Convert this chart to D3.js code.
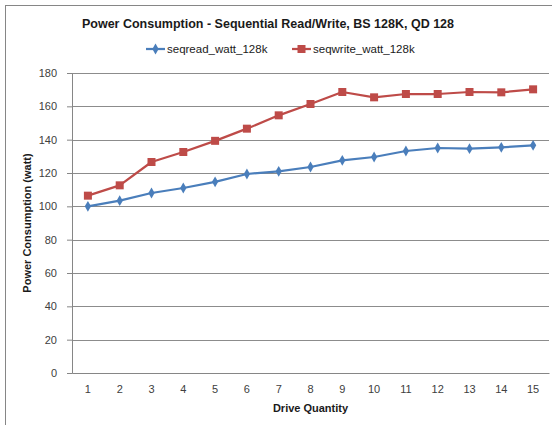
<!DOCTYPE html>
<html>
<head>
<meta charset="utf-8">
<script src="https://cdn.jsdelivr.net/npm/d3@7"></script>
<style>
  body { margin: 0; background: #fff; }
  text { font-family: "Liberation Sans", Arial, sans-serif; }
</style>
</head>
<body>
<script>
// Chart data
var drives = [1, 2, 3, 4, 5, 6, 7, 8, 9, 10, 11, 12, 13, 14, 15];
var seqRead = [100, 103.4, 108, 111, 114.7, 119.4, 121, 123.6, 127.6, 129.6, 133.2, 135, 134.6, 135.4, 136.6];
var seqWrite = [106.4, 112.6, 126.6, 132.6, 139.3, 146.6, 154.6, 161.4, 168.6, 165.4, 167.4, 167.4, 168.6, 168.4, 170.2];
var yTicks = [0, 20, 40, 60, 80, 100, 120, 140, 160, 180];

var seriesNames = ['seqread_watt_128k', 'seqwrite_watt_128k'];
var seriesColors = ['#4a7ebb', '#be4b48'];

var svgWidth = 552;
var svgHeight = 425;

var margin = { top: 73, right: 3, bottom: 52, left: 72 };
var chartWidth = svgWidth - margin.left - margin.right;
var chartHeight = svgHeight - margin.top - margin.bottom;

var svg = d3.select('body').append('svg')
  .attr('width', svgWidth)
  .attr('height', svgHeight);

// outer chart border (right and bottom edges fall outside the picture)
svg.append('rect')
  .attr('x', 5.5)
  .attr('y', 5.5)
  .attr('width', 560)
  .attr('height', 440)
  .attr('fill', 'none')
  .attr('stroke', '#868686');

var chart = svg.append('g')
  .attr('transform', `translate(${margin.left}, ${margin.top})`);

var xScale = d3.scaleBand()
  .domain(drives)
  .range([0, chartWidth]);

var yScale = d3.scaleLinear()
  .domain([0, 180])
  .range([chartHeight, 0]);

// gridlines
chart.append('g')
  .selectAll('line')
  .data(yTicks.slice(1))
  .enter()
  .append('line')
  .attr('x1', 0)
  .attr('x2', chartWidth)
  .attr('y1', function(d) { return Math.round(yScale(d)) + 0.5; })
  .attr('y2', function(d) { return Math.round(yScale(d)) + 0.5; })
  .attr('stroke', '#8c8c8c')
  .attr('stroke-width', 1);

// y axis
var leftAxis = d3.axisLeft(yScale)
  .tickValues(yTicks)
  .tickSize(5)
  .tickPadding(10);

var yAxis = chart.append('g')
  .call(leftAxis);
yAxis.select('.domain').attr('stroke', '#868686');
yAxis.selectAll('.tick line').attr('stroke', '#868686');
yAxis.selectAll('.tick text')
  .attr('font-size', 11)
  .attr('fill', '#404040')
  .attr('font-family', '"Liberation Sans", Arial, sans-serif');

// x axis
var bottomAxis = d3.axisBottom(xScale)
  .tickSize(0)
  .tickPadding(12);

var xAxis = chart.append('g')
  .attr('transform', `translate(0, ${chartHeight})`)
  .call(bottomAxis);
xAxis.select('.domain').attr('stroke', '#868686');
xAxis.selectAll('.tick text')
  .attr('font-size', 11)
  .attr('fill', '#404040')
  .attr('font-family', '"Liberation Sans", Arial, sans-serif');

// title
svg.append('text')
  .attr('x', 268)
  .attr('y', 28)
  .attr('text-anchor', 'middle')
  .attr('font-size', 12.5)
  .attr('font-weight', 'bold')
  .attr('fill', '#1a1a1a')
  .text('Power Consumption - Sequential Read/Write, BS 128K, QD 128');

// axis titles
svg.append('text')
  .attr('x', margin.left + chartWidth / 2)
  .attr('y', 412)
  .attr('text-anchor', 'middle')
  .attr('font-size', 11)
  .attr('font-weight', 'bold')
  .attr('fill', '#1a1a1a')
  .text('Drive Quantity');

svg.append('text')
  .attr('transform', 'rotate(-90)')
  .attr('x', -(margin.top + chartHeight / 2))
  .attr('y', 31)
  .attr('text-anchor', 'middle')
  .attr('font-size', 11)
  .attr('font-weight', 'bold')
  .attr('fill', '#1a1a1a')
  .text('Power Consumption (watt)');

// lines and markers
var allSeries = [seqRead, seqWrite];

var line = d3.line()
  .x(function(d, i) { return xScale(drives[i]) + xScale.bandwidth() / 2; })
  .y(function(d) { return yScale(d); });

function drawMarker(g, k, x, y) {
  if (k === 0) {
    g.append('path')
      .attr('d', d3.symbol().type(d3.symbolDiamond).size(34)())
      .attr('transform', `translate(${x}, ${y})`)
      .attr('fill', seriesColors[k]);
  } else {
    g.append('rect')
      .attr('x', x - 4)
      .attr('y', y - 4)
      .attr('width', 8)
      .attr('height', 8)
      .attr('fill', seriesColors[k]);
  }
}

allSeries.forEach(function(values, k) {
  chart.append('path')
    .datum(values)
    .attr('d', line)
    .attr('fill', 'none')
    .attr('stroke', seriesColors[k])
    .attr('stroke-width', 2.25)
    .attr('stroke-linejoin', 'round');

  var marks = chart.append('g');
  values.forEach(function(v, i) {
    drawMarker(marks, k, xScale(drives[i]) + xScale.bandwidth() / 2, yScale(v));
  });
});

// legend
var legendX = [146, 292];
seriesNames.forEach(function(name, k) {
  var lg = svg.append('g');
  lg.append('line')
    .attr('x1', legendX[k])
    .attr('x2', legendX[k] + 19)
    .attr('y1', 49)
    .attr('y2', 49)
    .attr('stroke', seriesColors[k])
    .attr('stroke-width', 2.25);
  drawMarker(lg, k, legendX[k] + 9.5, 49);
  lg.append('text')
    .attr('x', legendX[k] + 21)
    .attr('y', 53)
    .attr('font-size', 11.5)
    .attr('fill', '#1a1a1a')
    .text(name);
});
</script>
</body>
</html>
